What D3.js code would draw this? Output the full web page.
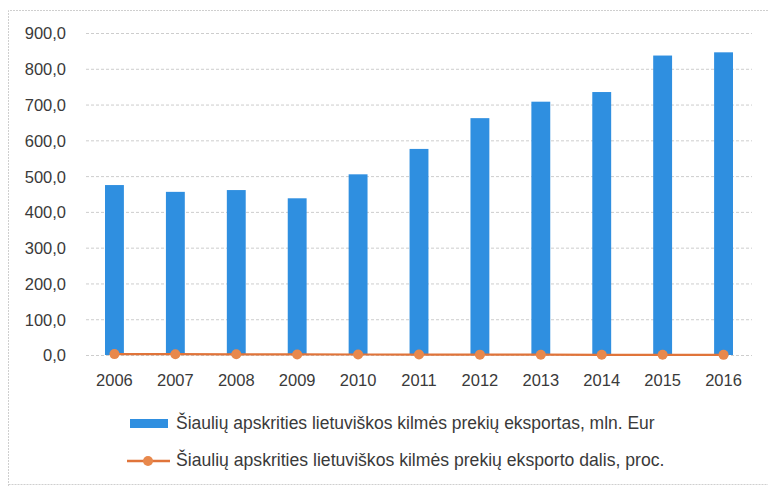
<!DOCTYPE html>
<html><head><meta charset="utf-8">
<script src="https://cdn.jsdelivr.net/npm/d3@7"></script>
<style>
html,body{margin:0;padding:0;background:#fff;}
svg{display:block;}
text{font-family:"Liberation Sans",Arial,sans-serif;fill:#3a3a3a;}
</style></head>
<body>
<svg id="c" width="768" height="486"></svg>
<script>
const years = ["2006","2007","2008","2009","2010","2011","2012","2013","2014","2015","2016"];
const exportValues = [475, 456, 461, 438, 505, 576, 662, 708, 735, 837, 846];
const shareValues = [2.5, 2.3, 2.0, 1.6, 1.4, 1.3, 1.0, 0.8, 0.6, 0.5, 0.4];
const yTicks = [0,100,200,300,400,500,600,700,800,900];
const legendLabels = [
  "Šiaulių apskrities lietuviškos kilmės prekių eksportas, mln. Eur",
  "Šiaulių apskrities lietuviškos kilmės prekių eksporto dalis, proc."
];

const svg = d3.select("#c");
const blue = "#2f8fe0", orange = "#e0743a", dot = "#e8884c";

// outer frame
svg.append("path").attr("d","M8.5,486 V10.5 H768 M8.5,484.5 H768")
  .attr("fill","none").attr("stroke","#cfcfcf").attr("stroke-width",1).attr("stroke-dasharray","2,1");

const x = d3.scaleBand().domain(years).range([84,754]).paddingInner(0.69).paddingOuter(0.345);
const y = d3.scaleLinear().domain([0,900]).range([355,33]);

// grid
svg.append("g").selectAll("line").data(yTicks).join("line")
  .attr("x1",86).attr("x2",752)
  .attr("y1",d=>y(d)+0.5).attr("y2",d=>y(d)+0.5)
  .attr("stroke","#cdcdcd").attr("stroke-width",1).attr("stroke-dasharray","3,2");

// y axis labels
const yAxis = d3.axisLeft(y).tickValues(yTicks).tickSize(0).tickPadding(0)
  .tickFormat(d=>d3.format(".1f")(d).replace(".",","));
const gy = svg.append("g").attr("transform","translate(66,0)").call(yAxis);
gy.select(".domain").remove();
gy.selectAll("text").attr("font-size","16.5px").attr("fill","#3a3a3a").attr("dy","0.36em")
  .style("font-family",'"Liberation Sans",Arial,sans-serif');

// bars
svg.append("g").selectAll("rect").data(years).join("rect")
  .attr("x",d=>x(d)).attr("width",x.bandwidth())
  .attr("y",(d,i)=>y(exportValues[i])).attr("height",(d,i)=>y(0)-y(exportValues[i]))
  .attr("fill",blue);

// line
const cx = d=>x(d)+x.bandwidth()/2;
const line = d3.line().x((d,i)=>cx(years[i])).y(d=>y(d));
svg.append("path").datum(shareValues).attr("d",line)
  .attr("fill","none").attr("stroke",orange).attr("stroke-width",2.2);
svg.append("g").selectAll("circle").data(shareValues).join("circle")
  .attr("cx",(d,i)=>cx(years[i])).attr("cy",d=>y(d)).attr("r",5).attr("fill",dot);

// x axis labels
const xAxis = d3.axisBottom(x).tickSize(0).tickPadding(0);
const gx = svg.append("g").attr("transform","translate(0,386)").call(xAxis);
gx.select(".domain").remove();
gx.selectAll("text").attr("font-size","16.5px").attr("fill","#3a3a3a").attr("dy","0")
  .style("font-family",'"Liberation Sans",Arial,sans-serif');

// legend
const lg = svg.append("g");
lg.append("rect").attr("x",130).attr("y",419).attr("width",38).attr("height",9).attr("fill",blue);
lg.append("line").attr("x1",127).attr("x2",170).attr("y1",461).attr("y2",461).attr("stroke",orange).attr("stroke-width",2.5);
lg.append("circle").attr("cx",148).attr("cy",461).attr("r",5).attr("fill",dot);
const targets = [[176,655,429],[176,665,466]];
legendLabels.forEach((t,i)=>{
  const el = lg.append("text").attr("x",targets[i][0]).attr("y",targets[i][2]).attr("font-size","15px").text(t);
  const w = el.node().getComputedTextLength();
  const want = targets[i][1]-targets[i][0];
  el.attr("font-size",(15*want/w).toFixed(2)+"px");
});
</script>
</body></html>
